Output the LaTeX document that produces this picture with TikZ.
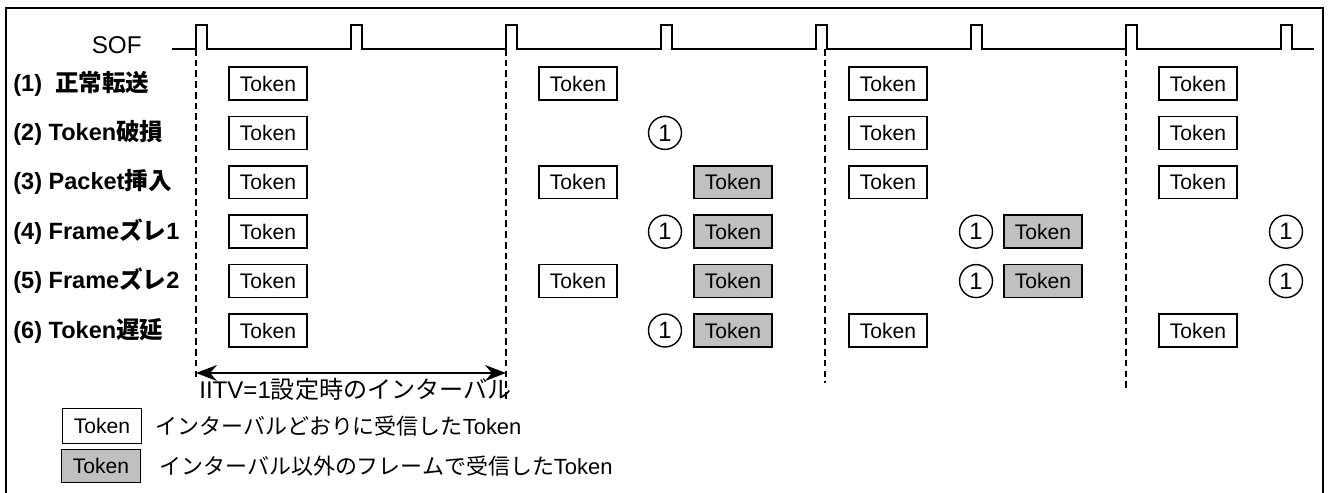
\documentclass[tikz,border=0pt]{standalone}
\usepackage{fontspec}
\setmainfont{Liberation Sans}
\newfontfamily\jpfont{Noto Sans CJK JP}
\usepackage{tikz}
\usetikzlibrary{arrows.meta, positioning}
\definecolor{tokgray}{RGB}{192,192,192}

\begin{document}
\begin{tikzpicture}[x=0.02cm, y=-0.02cm, >={Stealth[length=0.42cm, width=0.32cm]}]
  % Set the node styles
  \tikzset{
    tok/.style={draw, line width=0.8pt, minimum width=1.56cm, minimum height=0.66cm, inner sep=0pt, font=\fontsize{12}{14}\selectfont},
    latetok/.style={tok, fill=tokgray},
    lost/.style={circle, draw, line width=0.8pt, minimum size=0.66cm, inner sep=0pt, font=\fontsize{13.5}{15}\selectfont},
    rowlabel/.style={anchor=west, inner sep=0pt, font=\fontsize{13.4}{16}\selectfont\bfseries},
    note/.style={anchor=west, inner sep=0pt, font=\fontsize{13.7}{16}\selectfont},
    keynote/.style={anchor=west, inner sep=0pt, font=\fontsize{12.5}{15}\selectfont}
  }
  \useasboundingbox (0,0) rectangle (1329,493);

  % Draw the outer frame
  \draw[line width=1.2pt] (6,493) -- (6,8) -- (1323,8) -- (1323,493);

  % Draw the SOF pulses
  \node[anchor=base east, inner sep=0pt, font=\fontsize{13.8}{16}\selectfont] (sof) at (142,53.5) {SOF};
  \draw[line width=0.8pt] (172,49) \foreach \p in {0,...,7}{ -- ({196+155*\p},49) -- ++(0,-24) -- ++(11,0) -- ++(0,24)} -- (1314,49);

  % Draw the interval markers
  \foreach \mx/\my in {196/378, 506/400, 825/383, 1126/388}{
    \draw[dash pattern=on 3.8pt off 2.3pt, line width=0.7pt] (\mx,49) -- (\mx,\my);
  }

  % Draw the row labels
  \foreach \rw/\txt in {1/{(1)\ \ {\jpfont 正常転送}}, 2/{(2) Token{\jpfont 破損}}, 3/{(3) Packet{\jpfont 挿入}},
                        4/{(4) Frame{\jpfont ズレ}1}, 5/{(5) Frame{\jpfont ズレ}2}, 6/{(6) Token{\jpfont 遅延}}}{
    \node[rowlabel] (row\rw) at (13,{34.1+49.4*\rw}) {\txt};
  }

  % Draw the tokens received on the interval
  \foreach \rw/\x in {1/268, 1/578, 1/888, 1/1198, 2/268, 2/888, 2/1198, 3/268, 3/578, 3/888, 3/1198,
                      4/268, 5/268, 5/578, 6/268, 6/888, 6/1198}{
    \node[tok] (tok-\rw-\x) at (\x,{34.1+49.4*\rw}) {Token};
  }

  % Draw the tokens received in other frames
  \foreach \rw/\x in {3/733, 4/733, 4/1043, 5/733, 5/1043, 6/733}{
    \node[latetok] (late-\rw-\x) at (\x,{34.1+49.4*\rw}) {Token};
  }

  % Draw the lost tokens
  \foreach \rw/\x in {2/665, 4/665, 4/976, 4/1286, 5/976, 5/1286, 6/665}{
    \node[lost] (lost-\rw-\x) at (\x,{34.1+49.4*\rw}) {1};
  }

  % Draw the interval arrow
  \coordinate (ivl-l) at (196,373);
  \coordinate (ivl-r) at (506,373);
  \draw[<->, line width=0.8pt] (ivl-l) -- (ivl-r);
  \node[note] (ivl) at (199,389) {IITV=1{\jpfont 設定時のインターバル}};

  % Draw the legend
  \node[tok, minimum width=1.58cm, minimum height=0.7cm] (keyok) at (102,426) {Token};
  \node[keynote, right=0.26cm of keyok] (keyoktxt) {{\jpfont インターバルどおりに受信した}Token};
  \node[latetok, minimum width=1.58cm, minimum height=0.66cm] (keylate) at (101,466) {Token};
  \node[keynote, right=0.36cm of keylate] (keylatetxt) {{\jpfont インターバル以外のフレームで受信した}Token};
\end{tikzpicture}
\end{document}
